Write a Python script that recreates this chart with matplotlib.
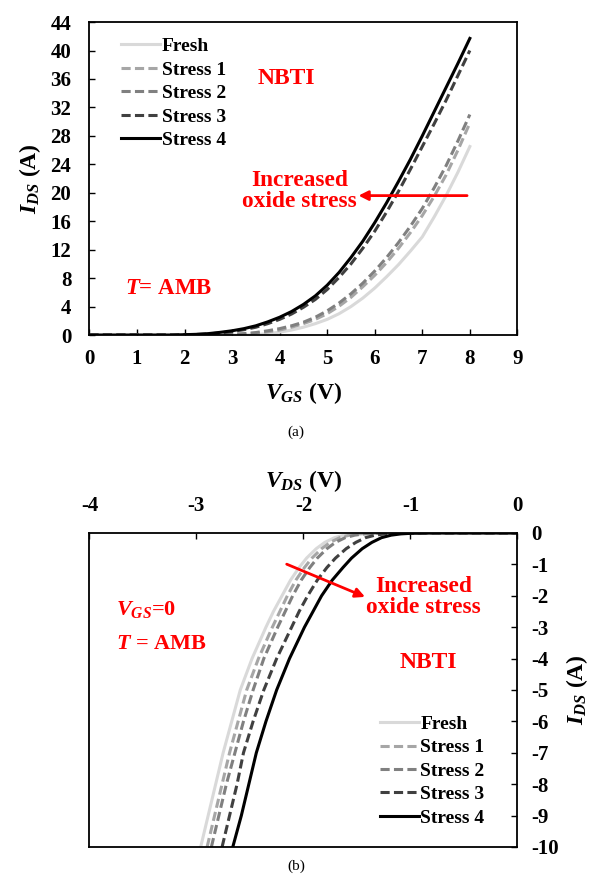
import numpy as np
import matplotlib
matplotlib.use("Agg")
import matplotlib.pyplot as plt

plt.rcParams['font.family'] = 'Liberation Serif'
plt.rcParams['font.weight'] = 'bold'
plt.rcParams['axes.labelweight'] = 'bold'
plt.rcParams['axes.unicode_minus'] = False
plt.rcParams['mathtext.fontset'] = 'custom'
plt.rcParams['mathtext.it'] = 'Liberation Serif:italic:bold'
plt.rcParams['mathtext.rm'] = 'Liberation Serif:bold'
plt.rcParams['mathtext.bf'] = 'Liberation Serif:bold'

labels = ['Fresh', 'Stress 1', 'Stress 2', 'Stress 3', 'Stress 4']
colors = ['#d9d9d9', '#a6a6a6', '#808080', '#404040', '#000000']
dashed = [False, True, True, True, False]

# (a) transfer curves: I_DS vs V_GS
vgs = [0, 0.25, 0.5, 0.75, 1, 1.25, 1.5, 1.75, 2, 2.25, 2.5, 2.75, 3, 3.25, 3.5, 3.75,
       4, 4.25, 4.5, 4.75, 5, 5.25, 5.5, 5.75, 6, 6.25, 6.5, 6.75, 7, 7.25, 7.5, 7.75, 8]
ids_fresh = [0, 0, 0, 0, 0, 0, 0, 0, 0, 0, 0, 0, 0, 0, 0.05, 0.2,
             0.4, 0.7, 1.1, 1.6, 2.2, 3.0, 4.0, 5.2, 6.6, 8.2, 9.9, 11.8, 13.8, 16.6, 19.6, 22.9, 26.5]
ids_s1 = [0, 0, 0, 0, 0, 0, 0, 0, 0, 0, 0, 0, 0.05, 0.13, 0.25, 0.45,
          0.7, 1.1, 1.6, 2.2, 3.0, 4.05, 5.3, 6.8, 8.4, 10.2, 12.2, 14.4, 16.8, 19.5, 22.5, 26.0, 29.8]
ids_s2 = [0, 0, 0, 0, 0, 0, 0, 0, 0, 0, 0.02, 0.05, 0.1, 0.2, 0.35, 0.6,
          0.9, 1.3, 1.8, 2.5, 3.4, 4.5, 5.8, 7.3, 9.0, 10.9, 13.0, 15.3, 17.8, 20.7, 23.8, 27.3, 31.0]
ids_s3 = [0, 0, 0, 0, 0, 0, 0, 0, 0.03, 0.08, 0.15, 0.3, 0.5, 0.75, 1.1, 1.6,
          2.2, 2.95, 3.9, 5.0, 6.4, 8.1, 10.0, 12.2, 14.6, 17.3, 20.2, 23.3, 26.5, 29.7, 33.0, 36.5, 40.0]
ids_s4 = [0, 0, 0, 0, 0, 0, 0, 0, 0.05, 0.1, 0.2, 0.38, 0.6, 0.9, 1.3, 1.85,
          2.5, 3.3, 4.3, 5.5, 7.0, 8.8, 10.9, 13.2, 15.8, 18.6, 21.6, 24.7, 28.0, 31.4, 34.8, 38.2, 41.7]
transfer = [ids_fresh, ids_s1, ids_s2, ids_s3, ids_s4]

# (b) output curves at V_GS = 0: V_DS for each I_DS level
ids_levels = [-10, -9, -8, -7, -6, -5, -4, -3, -2.5, -2, -1.5, -1.1, -0.8, -0.5,
              -0.3, -0.15, -0.07, -0.03, -0.01, 0, 0]
vds_fresh = [-2.96, -2.89, -2.82, -2.75, -2.67, -2.59, -2.48, -2.35, -2.28, -2.20, -2.12,
             -2.04, -1.97, -1.88, -1.80, -1.71, -1.62, -1.53, -1.42, -1.2, 0]
vds_s1 = [-2.90, -2.83, -2.76, -2.69, -2.61, -2.53, -2.42, -2.29, -2.22, -2.15, -2.07,
          -1.99, -1.92, -1.83, -1.75, -1.66, -1.57, -1.48, -1.37, -1.15, 0]
vds_s2 = [-2.86, -2.79, -2.72, -2.64, -2.56, -2.47, -2.37, -2.24, -2.17, -2.10, -2.02,
          -1.94, -1.87, -1.78, -1.70, -1.61, -1.52, -1.43, -1.32, -1.1, 0]
vds_s3 = [-2.76, -2.69, -2.62, -2.56, -2.47, -2.37, -2.25, -2.11, -2.04, -1.96, -1.87,
          -1.78, -1.70, -1.60, -1.51, -1.42, -1.33, -1.24, -1.14, -0.95, 0]
vds_s4 = [-2.66, -2.58, -2.51, -2.44, -2.35, -2.25, -2.13, -1.99, -1.91, -1.83, -1.73,
          -1.63, -1.55, -1.45, -1.36, -1.27, -1.18, -1.09, -0.99, -0.8, 0]
output = [vds_fresh, vds_s1, vds_s2, vds_s3, vds_s4]

fig = plt.figure(figsize=(5.92, 8.75), dpi=100)

# ---- panel (a)
ax1 = fig.add_axes([0.151, 0.6171, 0.723, 0.3577])
for y, lab, c, d in zip(transfer, labels, colors, dashed):
    ln, = ax1.plot(vgs, y, color=c, lw=2.2, label=lab)
    if d:
        ln.set_dashes((3, 1.4))
ax1.set_xlim(0, 9)
ax1.set_ylim(0, 44)
ax1.set_xticks(range(0, 10))
ax1.set_yticks(range(0, 45, 4))
ax1.tick_params(direction='in', labelsize=15, length=4, width=1)
ax1.tick_params(axis='x', pad=10)
ax1.tick_params(axis='y', pad=13)
ax1.set_xlabel('$V_{GS}$ (V)', fontsize=17, labelpad=8)
ax1.set_ylabel('$I_{DS}$ (A)', fontsize=17, labelpad=5)
for s in ax1.spines.values():
    s.set_linewidth(1.3)
ax1.legend(loc='upper left', bbox_to_anchor=(0.055, 0.975), frameon=False,
           fontsize=14, handlelength=2.0, handletextpad=0.1,
           labelspacing=0.3, borderaxespad=0)
ax1.text(4.15, 36.0, 'NBTI', color='red', fontsize=17, ha='center', va='center')
ax1.text(4.42, 20.25, 'Increased\noxide stress', color='red', fontsize=16.8,
         ha='center', va='center', linespacing=1.05)
ax1.text(1.67, 6.6, '$T$= AMB', color='red', fontsize=16.5, ha='center', va='center')
ax1.annotate('', xy=(5.6, 19.6), xytext=(8.0, 19.6),
             arrowprops=dict(arrowstyle='-|>', color='red', lw=2, mutation_scale=14))
fig.text(0.5, 0.506, '(a)', fontsize=11, fontweight='normal', ha='center', va='center')

# ---- panel (b)
ax2 = fig.add_axes([0.151, 0.032, 0.723, 0.3589])
for x, lab, c, d in zip(output, labels, colors, dashed):
    ln, = ax2.plot(x, ids_levels, color=c, lw=2.2, label=lab)
    if d:
        ln.set_dashes((3, 1.4))
ax2.set_xlim(-4, 0)
ax2.set_ylim(-10, 0)
ax2.set_xticks(range(-4, 1))
ax2.set_yticks(range(-10, 1))
ax2.xaxis.tick_top()
ax2.xaxis.set_label_position('top')
ax2.yaxis.tick_right()
ax2.yaxis.set_label_position('right')
ax2.tick_params(direction='in', labelsize=15, length=4, width=1)
ax2.tick_params(axis='x', pad=12)
ax2.tick_params(axis='y', pad=10)
ax2.set_xlabel('$V_{DS}$ (V)', fontsize=17, labelpad=7)
ax2.set_ylabel('$I_{DS}$ (A)', fontsize=17, labelpad=4)
for s in ax2.spines.values():
    s.set_linewidth(1.3)
ax2.legend(loc='lower left', bbox_to_anchor=(0.66, 0.04), frameon=False,
           fontsize=14, handlelength=2.0, handletextpad=0.1,
           labelspacing=0.3, borderaxespad=0)
ax2.text(-0.88, -2.04, 'Increased\noxide stress', color='red', fontsize=16.8,
         ha='center', va='center', linespacing=1.05)
ax2.text(-0.83, -4.14, 'NBTI', color='red', fontsize=17, ha='center', va='center')
ax2.text(-3.75, -2.45, '$V_{GS}$=0', color='red', fontsize=16, ha='left', va='center')
ax2.text(-3.75, -3.55, '$T$ = AMB', color='red', fontsize=16, ha='left', va='center')
ax2.annotate('', xy=(-1.40, -2.07), xytext=(-2.18, -0.96),
             arrowprops=dict(arrowstyle='-|>', color='red', lw=2, mutation_scale=14))
fig.text(0.5, 0.01, '(b)', fontsize=11, fontweight='normal', ha='center', va='center')

fig.savefig('out.png', dpi=100)
